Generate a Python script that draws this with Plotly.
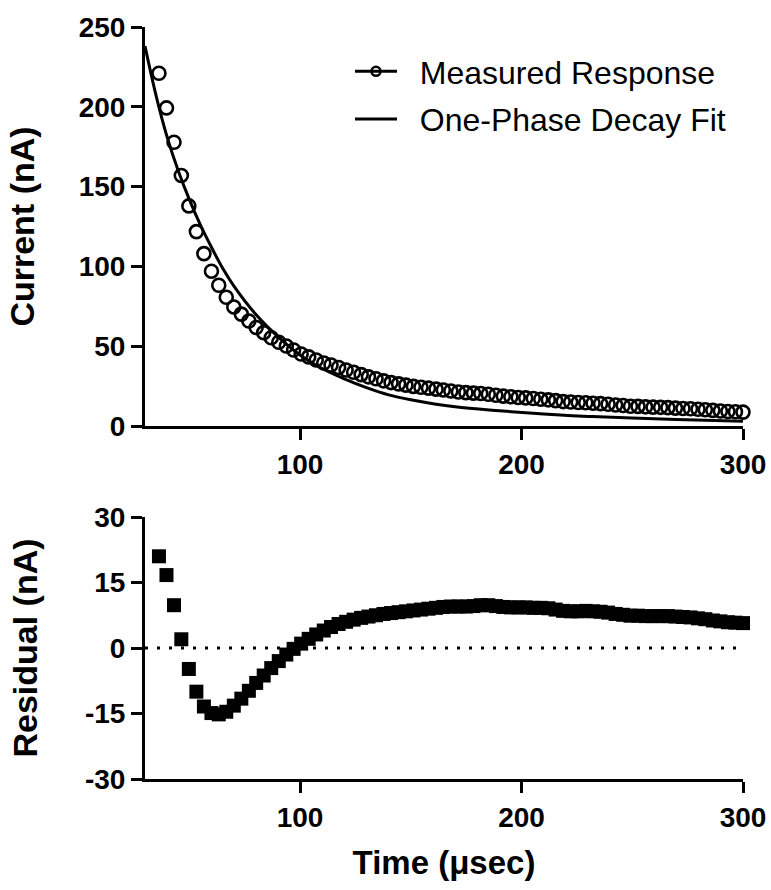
import plotly.graph_objects as go
from plotly.subplots import make_subplots

# ---------------- data ----------------
time_us = [36.3, 39.7, 43.1, 46.4, 49.8, 53.2, 56.6, 60.0, 63.3, 66.7,
           70.1, 73.5, 76.9, 80.2, 83.6, 87.0, 90.4, 93.8, 97.1, 100.5,
           103.9, 107.3, 110.7, 114.0, 117.4, 120.8, 124.2, 127.6, 130.9, 134.3,
           137.7, 141.1, 144.5, 147.8, 151.2, 154.6, 158.0, 161.4, 164.7, 168.1,
           171.5, 174.9, 178.3, 181.6, 185.0, 188.4, 191.8, 195.2, 198.5, 201.9,
           205.3, 208.7, 212.1, 215.4, 218.8, 222.2, 225.6, 229.0, 232.3, 235.7,
           239.1, 242.5, 245.9, 249.2, 252.6, 256.0, 259.4, 262.8, 266.1, 269.5,
           272.9, 276.3, 279.7, 283.0, 286.4, 289.8, 293.2, 296.6, 300.0]

measured_nA = [221.0, 199.3, 177.8, 157.0, 137.9, 121.8, 108.0, 97.0, 88.2, 80.7,
               74.6, 70.1, 65.8, 61.7, 58.5, 55.3, 52.5, 50.1, 47.6, 45.1,
               43.3, 41.4, 39.5, 38.2, 36.7, 35.1, 33.7, 32.2, 30.8, 29.6,
               28.3, 27.2, 26.4, 25.6, 24.8, 24.3, 23.7, 23.1, 22.6, 21.9,
               21.3, 20.9, 20.6, 20.4, 19.9, 19.3, 18.7, 18.3, 17.9, 17.6,
               17.2, 16.8, 16.4, 15.9, 15.3, 15.0, 14.7, 14.6, 14.3, 14.0,
               13.6, 13.2, 12.8, 12.4, 12.3, 12.0, 11.8, 11.7, 11.5, 11.2,
               11.0, 10.8, 10.5, 10.2, 9.8, 9.4, 9.1, 8.9, 8.7]

residual_nA = [21.0, 16.7, 9.8, 2.0, -4.8, -10.0, -13.4, -14.9, -15.2, -14.6,
               -13.2, -11.6, -9.8, -8.0, -6.3, -4.6, -3.0, -1.5, -0.2, 1.0,
               2.1, 3.1, 4.0, 4.8, 5.5, 6.0, 6.5, 6.9, 7.2, 7.5,
               7.8, 8.0, 8.2, 8.4, 8.6, 8.8, 9.0, 9.2, 9.4, 9.5,
               9.5, 9.5, 9.6, 9.8, 9.8, 9.6, 9.4, 9.3, 9.3, 9.3,
               9.2, 9.2, 9.1, 8.8, 8.5, 8.4, 8.4, 8.5, 8.4, 8.3,
               8.1, 7.8, 7.6, 7.4, 7.4, 7.3, 7.3, 7.3, 7.3, 7.2,
               7.1, 7.0, 6.8, 6.6, 6.3, 6.1, 5.9, 5.8, 5.7]

fit_time_us = [30, 35, 40, 45, 50, 55, 60, 65, 70, 80, 90, 100, 110, 120,
               130, 140, 150, 170, 190, 210, 230, 250, 270, 300]
fit_nA = [238, 207, 181, 160, 142, 126, 112, 99, 88, 70, 56, 44.5, 36, 29.5,
          24, 19.5, 16.5, 12, 9.5, 7.5, 6, 5, 4, 3]

x_ticks = [100, 200, 300]
top_y_ticks = [0, 50, 100, 150, 200, 250]
bottom_y_ticks = [-30, -15, 0, 15, 30]
bottom_y_text = ["-30", "-15", "0", "15", "30"]

# ---------------- figure ----------------
W, H = 771, 890
ML, MR, MT, MB = 145, 28, 27, 111
plot_h = H - MT - MB

fig = make_subplots(rows=2, cols=1, shared_xaxes=False)

FONT = "Arial, Liberation Sans, sans-serif"
GAP = "\u00a0\u00a0"

# legend proxy for measured response (line + circle)
fig.add_trace(go.Scatter(
    x=[None], y=[None], mode="lines+markers",
    line=dict(color="black", width=3),
    marker=dict(symbol="circle-open", size=9, color="black", line=dict(width=2.6)),
    name=GAP + "Measured Response", showlegend=True, legendgroup="m", legendrank=1),
    row=1, col=1)

# fit line
fig.add_trace(go.Scatter(
    x=fit_time_us, y=fit_nA, mode="lines", line=dict(color="black", width=3, shape="spline"),
    name=GAP + "One-Phase Decay Fit", showlegend=True, legendgroup="f", legendrank=2,
    cliponaxis=False),
    row=1, col=1)

# measured points
fig.add_trace(go.Scatter(
    x=time_us, y=measured_nA, mode="markers",
    marker=dict(symbol="circle-open", size=13, color="black", line=dict(width=2.6)),
    name="Measured Response", showlegend=False, cliponaxis=False),
    row=1, col=1)

# residuals
fig.add_trace(go.Scatter(
    x=time_us, y=residual_nA, mode="markers",
    marker=dict(symbol="square", size=14, color="black", line=dict(width=0)),
    name="Residual", showlegend=False, cliponaxis=False),
    row=2, col=1)

# dotted zero line in residual panel
fig.add_shape(type="line", xref="x2", yref="y2", x0=30, x1=300, y0=0, y1=0,
              line=dict(color="black", width=3, dash="3px,9px"), layer="below")

axis_common = dict(
    showline=True, linecolor="black", linewidth=3,
    ticks="outside", ticklen=11, tickwidth=3, tickcolor="black",
    showgrid=False, zeroline=False,
    tickfont=dict(family=FONT, size=28, color="black", weight="bold"),
)

fig.update_xaxes(range=[30, 300], tickvals=x_ticks, **axis_common)
fig.update_xaxes(domain=[0, 1], row=1, col=1)
fig.update_xaxes(domain=[0, 1], row=2, col=1,
                 title=dict(text="Time (μsec)", standoff=20,
                            font=dict(family=FONT, size=33, color="black", weight="bold")))

top_dom = [1 - (426 - MT) / plot_h, 1.0]
bot_dom = [0.0, 1 - (517 - MT) / plot_h]

fig.update_yaxes(range=[0, 250], tickvals=top_y_ticks, domain=top_dom, row=1, col=1,
                 title=dict(text="Current (nA)", standoff=34,
                            font=dict(family=FONT, size=34, color="black", weight="bold")),
                 **axis_common)
fig.update_yaxes(range=[-30, 30], tickvals=bottom_y_ticks, ticktext=bottom_y_text,
                 domain=bot_dom, row=2, col=1,
                 title=dict(text="Residual (nA)", standoff=38,
                            font=dict(family=FONT, size=34, color="black", weight="bold")),
                 **axis_common)

fig.update_layout(
    width=W, height=H,
    margin=dict(l=ML, r=MR, t=MT, b=MB, autoexpand=False),
    plot_bgcolor="white", paper_bgcolor="white",
    font=dict(family=FONT, color="black"),
    legend=dict(
        x=(350 - ML) / (W - ML - MR), xanchor="left",
        y=1 - (44 - MT) / plot_h, yanchor="top",
        font=dict(family=FONT, size=32, color="black"),
        bgcolor="rgba(0,0,0,0)", itemwidth=42,
        traceorder="grouped", tracegroupgap=3,
    ),
)

fig.write_html("out.html")
